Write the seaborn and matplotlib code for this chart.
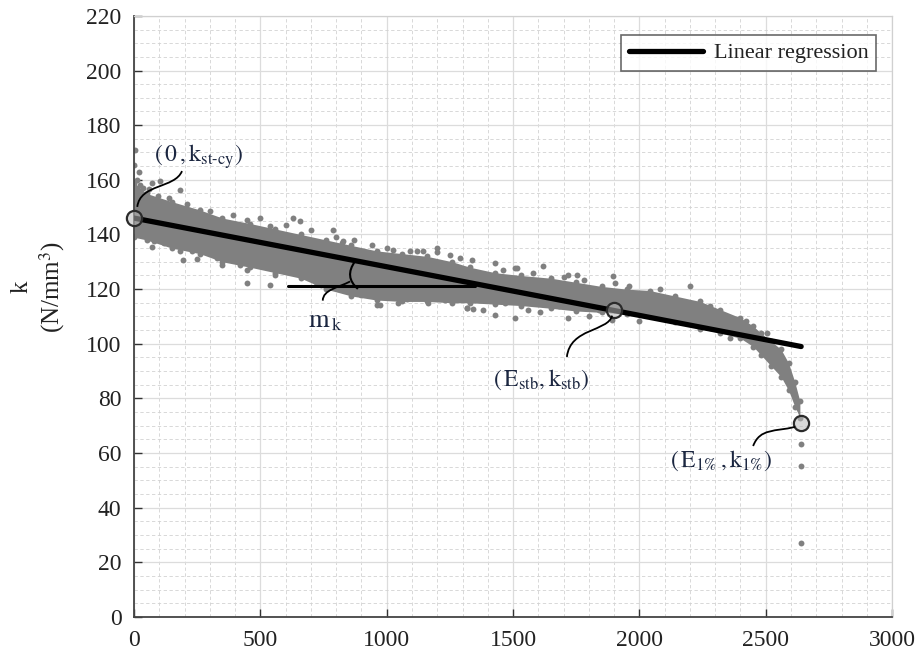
import numpy as np
import pandas as pd
import seaborn as sns
import matplotlib
matplotlib.use("Agg")
import matplotlib.pyplot as plt
from matplotlib.path import Path
import matplotlib.patches as mpatches
from matplotlib.ticker import MultipleLocator

# ---------------- data ----------------
# envelope of the dense cloud of measurements (energy E, stiffness k)
band_x = [0, 50, 150, 260, 350, 460, 560, 660, 760, 860, 960, 1060, 1160, 1260,
          1330, 1430, 1530, 1650, 1750, 1850, 1950, 2040, 2140, 2240, 2320, 2400,
          2450, 2480, 2520, 2560, 2590, 2615, 2635]
band_upper = [159, 155, 152, 149, 146, 144, 142, 140, 138, 136, 134, 133, 132, 130,
              128, 126, 125, 124, 122.5, 121, 120, 119.5, 117.5, 115.5, 112.5, 109.5,
              106.5, 104, 101, 98, 93, 86, 79]
band_lower = [139, 138, 135, 133, 130, 128, 126, 124, 120, 117.5, 116, 115.5, 115.5, 115,
              115, 114.5, 114, 113, 112, 111.5, 111, 110, 108, 105.5, 104, 102,
              99, 96, 92, 88, 83, 77, 73]

# isolated measurements outside the dense band
pts_x = [4, 0, 10, 70, 103, 182, 70, 182, 340, 347, 446, 538, 630, 657, 788, 827,
         446, 194, 822, 1026, 1092, 1145, 1198, 1336, 1429, 1508, 1620, 973, 1046,
         1165, 1317, 1343, 1429, 1508, 1607, 446, 538, 683, 960, 1317, 1515, 1719,
         1752, 1897, 1903, 1719, 1890, 2504, 2359, 2640, 2640, 2640, 20, 35, 120,
         250, 560, 720, 900, 1250, 1380, 1560, 1800, 2000, 2200,
         25, 60, 95, 140, 210, 300, 390, 500, 600, 700, 800, 870, 940, 1000, 1120,
         1200, 1290, 1460, 1580, 1700, 1780, 1960, 2080, 2280, 2420,
         30, 80, 230, 330, 420, 610, 740, 1080, 1230, 1470, 1680, 1840, 2100, 2300]
pts_y = [170.8, 165.6, 160, 158.9, 159.5, 156.4, 135.6, 133.8, 145.4, 128.9, 145.4,
         143, 146, 144.8, 141.8, 137.5, 127, 130.8, 136.9, 134.4, 133.8, 133.8, 135,
         130.8, 129.6, 127.7, 128.3, 114.3, 114.9, 114.9, 113, 112.7, 110.6, 109.4,
         111.8, 122.2, 121.6, 124.7, 114.3, 113, 127.7, 125.3, 125.3, 124.7, 122.2,
         109.4, 108.8, 103.9, 102, 63.4, 55.2, 27, 163, 157, 137, 131, 125, 122.5,
         118, 132.5, 112.5, 112.5, 110, 108.5, 121,
         158, 156.5, 154, 153.5, 151, 148.5, 147, 146, 143.5, 141.5, 139, 138, 136,
         135, 134, 133.5, 131.5, 127, 126, 124.5, 123.5, 121, 120, 114, 108.5,
         140.5, 137.5, 134, 131.5, 129, 126.5, 121.5, 116.5, 116, 115, 114, 112.5,
         109.5, 107]

# linear regression of k against E
reg_x = [0, 2640]
reg_y = [146, 99]

# characteristic points
key_x = [0, 1900, 2640]
key_y = [146, 112.5, 71]

# horizontal reference used to show the slope m_k
ref_x = [610, 1350]
ref_y = [121.3, 121.3]

xticks = list(range(0, 3001, 500))
yticks = list(range(0, 221, 20))

# ---------------- style ----------------
sns.set_theme(style="white")
plt.rcParams["font.family"] = ["Liberation Serif", "DejaVu Serif"]
plt.rcParams["mathtext.fontset"] = "stix"

dot_color = "#808080"
text_color = "#1b2640"

fig = plt.figure(figsize=(9.24, 6.6), dpi=100)
ax = fig.add_axes([0.145, 0.065, 0.8205, 0.911])

# grid
ax.xaxis.set_major_locator(MultipleLocator(500))
ax.xaxis.set_minor_locator(MultipleLocator(100))
ax.yaxis.set_major_locator(MultipleLocator(20))
ax.yaxis.set_minor_locator(MultipleLocator(5))
ax.grid(which="major", color="#dcdcdc", lw=0.9, ls="-", zorder=0)
ax.grid(which="minor", color="#d2d2d2", lw=0.6, ls=(0, (4, 3)), zorder=0)
ax.set_axisbelow(True)

# dense cloud and scattered measurements
ax.fill_between(band_x, band_lower, band_upper, color=dot_color, lw=0, zorder=2)
cloud = pd.DataFrame({
    "E": band_x + band_x + pts_x,
    "k": band_upper + band_lower + pts_y,
})
sns.scatterplot(data=cloud, x="E", y="k", color=dot_color, s=18, lw=0,
                ax=ax, zorder=2, legend=False)

# regression line
reg = pd.DataFrame({"E": reg_x, "k": reg_y})
sns.lineplot(data=reg, x="E", y="k", color="black", lw=3.8, ax=ax, zorder=3,
             label="Linear regression")

# horizontal reference line for the slope
ax.plot(ref_x, ref_y, color="black", lw=2.2, zorder=3)

# key points
ax.scatter(key_x, key_y, s=120, facecolor=(0.72, 0.72, 0.72, 0.55),
           edgecolor="#2b2b2b", lw=1.6, zorder=5, clip_on=False)


def curve(p0, c1, c2, p3, lw=1.3):
    path = Path([p0, c1, c2, p3], [Path.MOVETO, Path.CURVE4, Path.CURVE4, Path.CURVE4])
    ax.add_patch(mpatches.PathPatch(path, fc="none", ec="black", lw=lw, zorder=6))


# leader lines to the labels
curve((13, 150.1), (24, 158.6), (162, 156.8), (190, 163.2))
curve((1892, 110.3), (1876, 104.4), (1726, 105.9), (1713, 95.2))
curve((2616, 69.6), (2537, 67.8), (2477, 69.2), (2450, 62.6))
curve((855, 122.8), (807, 120.5), (748, 119.8), (747, 115.8))
# angle mark between regression and reference line
arc = Path([(875, 130.2), (830, 124.5), (886, 120.1)], [Path.MOVETO, Path.CURVE3, Path.CURVE3])
ax.add_patch(mpatches.PathPatch(arc, fc="none", ec="black", lw=1.5, zorder=6))

# labels
ax.text(78, 166.5, r"$(\,0\,,\mathrm{k}_{\mathrm{st\text{-}cy}})$", fontsize=17,
        color=text_color, ha="left", va="baseline", zorder=7)
ax.text(1420, 84.5, r"$(\,\mathrm{E}_{\mathrm{stb}},\mathrm{k}_{\mathrm{stb}})$", fontsize=17,
        color=text_color, ha="left", va="baseline", zorder=7)
ax.text(2120, 55, r"$(\,\mathrm{E}_{1\%}\,,\mathrm{k}_{1\%})$", fontsize=17,
        color=text_color, ha="left", va="baseline", zorder=7)
ax.text(690, 106, r"$\mathrm{m}_{\,\mathrm{k}}$", fontsize=19,
        color=text_color, ha="left", va="baseline", zorder=7)

# axes
ax.set_xlim(0, 3000)
ax.set_ylim(0, 220)
ax.set_xticks(xticks)
ax.set_yticks(yticks)
ax.set_xlabel("")
ax.set_ylabel("")
ax.tick_params(axis="both", which="major", direction="in", length=6, width=1,
               labelsize=17, colors="#333333", labelcolor="#222222", pad=9,
               top=False, right=False, left=True, bottom=True)
ax.tick_params(axis="both", which="minor", length=0)
for side in ("left", "bottom"):
    ax.spines[side].set_color("#444444")
    ax.spines[side].set_linewidth(1.3)
for side in ("top", "right"):
    ax.spines[side].set_color("#d0d0d0")
    ax.spines[side].set_linewidth(0.9)

fig.text(0.042, 0.565, "k\n(N/mm$^3$)", rotation=90, ha="center", va="center",
         fontsize=18, color="#222222", multialignment="center")

leg = ax.legend(loc="upper right", bbox_to_anchor=(0.979, 0.968), fontsize=16,
                frameon=True, fancybox=False, handlelength=3.3, handletextpad=0.5,
                borderpad=0.35, borderaxespad=0)
leg.get_frame().set_edgecolor("#444444")
leg.get_frame().set_linewidth(1.2)
for t in leg.get_texts():
    t.set_color("#222222")

fig.savefig("out.png", dpi=100)
